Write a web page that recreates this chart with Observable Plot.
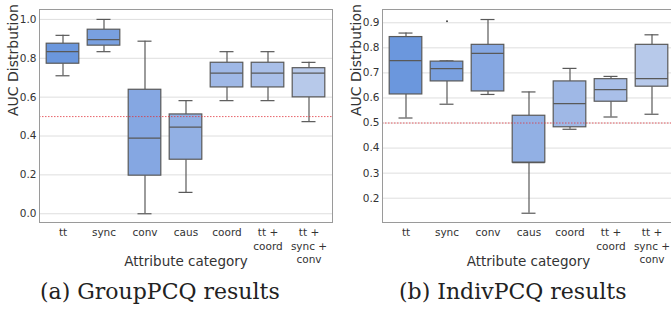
<!DOCTYPE html>
<html>
<head>
<meta charset="utf-8">
<script src="https://cdn.jsdelivr.net/npm/d3@7"></script>
<script src="https://cdn.jsdelivr.net/npm/@observablehq/plot@0.6"></script>
<style>
  html, body { margin: 0; padding: 0; background: #fff; }
  #wrap { position: relative; width: 671px; height: 316px; overflow: hidden; background: #fff; }
  #wrap svg { position: absolute; top: 0; }
  .cap { position: absolute; font-family: "DejaVu Serif", serif; font-size: 22px; line-height: 22px; color: #222; white-space: nowrap; }
</style>
</head>
<body>
<div id="wrap"></div>
<script>
const categories = ["tt", "sync", "conv", "caus", "coord", "tt + coord", "tt + sync + conv"];
const tickLabels = ["tt", "sync", "conv", "caus", "coord", "tt +\ncoord", "tt +\nsync +\nconv"];
const colors = ["#6b97dd", "#79a0e0", "#85a7e2", "#92b0e4", "#9fb8e6", "#a9bfe8", "#b7c9ea"];

// (a) GroupPCQ
const groupLow  = [0.710, 0.834, 0.000, 0.110, 0.582, 0.582, 0.474];
const groupQ1   = [0.772, 0.865, 0.196, 0.278, 0.650, 0.650, 0.599];
const groupMed  = [0.834, 0.896, 0.389, 0.446, 0.724, 0.724, 0.724];
const groupQ3   = [0.875, 0.947, 0.638, 0.511, 0.777, 0.777, 0.749];
const groupHigh = [0.918, 1.000, 0.888, 0.582, 0.834, 0.834, 0.779];
const groupTicks = [0, 0.2, 0.4, 0.6, 0.8, 1.0];

// (b) IndivPCQ
const indivLow  = [0.520, 0.575, 0.614, 0.140, 0.475, 0.524, 0.535];
const indivQ1   = [0.614, 0.666, 0.626, 0.342, 0.483, 0.585, 0.645];
const indivMed  = [0.749, 0.717, 0.778, 0.342, 0.577, 0.633, 0.677];
const indivQ3   = [0.843, 0.745, 0.812, 0.529, 0.666, 0.675, 0.812];
const indivHigh = [0.859, 0.748, 0.913, 0.624, 0.718, 0.686, 0.852];
const indivTicks = [0.2, 0.3, 0.4, 0.5, 0.6, 0.7, 0.8, 0.9];
const indivOutlierCats = ["sync"];
const indivOutlierVals = [0.906];

const chance = 0.5;
const yLabel = "AUC Distrbution";
const xLabel = "Attribute category";

function rows(low, q1, med, q3, high) {
  return categories.map((c, i) => ({cat: c, low: low[i], q1: q1[i], med: med[i], q3: q3[i], high: high[i], color: colors[i]}));
}

const edge = "#595959";
const txt = "#333";

function makePlot({data, ticks, domain, width, marginLeft, outliers}) {
  const boxInset = 4.2;
  const capInset = 13.5;
  return Plot.plot({
    width, height: 275,
    marginLeft, marginRight: 3, marginTop: 9, marginBottom: 53,
    style: {fontFamily: "'DejaVu Sans', sans-serif", background: "transparent", overflow: "visible"},
    x: {domain: categories, padding: 0, axis: null},
    y: {domain, axis: null},
    marks: [
      Plot.ruleY(ticks, {stroke: "#dedede", strokeWidth: 1}),
      Plot.text(ticks, {y: d => d, text: d => d3.format(".1f")(d), frameAnchor: "left", textAnchor: "end", dx: -3, fontSize: 10.5, fill: txt}),
      Plot.ruleX(data, {x: "cat", y1: "low", y2: "q1", stroke: edge, strokeWidth: 1.2}),
      Plot.ruleX(data, {x: "cat", y1: "q3", y2: "high", stroke: edge, strokeWidth: 1.2}),
      Plot.tickY(data, {x: "cat", y: "low", stroke: edge, strokeWidth: 1.2, insetLeft: capInset, insetRight: capInset}),
      Plot.tickY(data, {x: "cat", y: "high", stroke: edge, strokeWidth: 1.2, insetLeft: capInset, insetRight: capInset}),
      Plot.barY(data, {x: "cat", y1: "q1", y2: "q3", fill: "color", stroke: edge, strokeWidth: 1.2, insetLeft: boxInset, insetRight: boxInset}),
      Plot.tickY(data, {x: "cat", y: "med", stroke: edge, strokeWidth: 1.2, insetLeft: boxInset, insetRight: boxInset}),
      outliers ? Plot.dot(outliers, {x: "cat", y: "value", r: 1, fill: "#444", stroke: null}) : null,
      Plot.ruleY([chance], {stroke: "#e0303a", strokeWidth: 0.9, strokeDasharray: "1.5,1.5", strokeOpacity: 0.85}),
      Plot.frame({stroke: "#9a9a9a", strokeWidth: 1}),
      Plot.text([yLabel], {frameAnchor: "left", dx: -26, rotate: -90, fontSize: 14, fill: txt}),
      Plot.text(categories, {x: d => d, text: (d, i) => tickLabels[i], frameAnchor: "bottom", lineAnchor: "top", dy: 4, fontSize: 10.5, lineHeight: 1.3, fill: txt}),
      Plot.text([xLabel], {frameAnchor: "bottom", dy: 43, fontSize: 13.5, fill: txt})
    ]
  });
}

const wrap = document.getElementById("wrap");

const left = makePlot({
  data: rows(groupLow, groupQ1, groupMed, groupQ3, groupHigh),
  ticks: groupTicks, domain: [-0.045, 1.051], width: 335, marginLeft: 39
});
left.style.left = "0px";
wrap.appendChild(left);

const right = makePlot({
  data: rows(indivLow, indivQ1, indivMed, indivQ3, indivHigh),
  ticks: indivTicks, domain: [0.103, 0.953], width: 342, marginLeft: 47,
  outliers: indivOutlierCats.map((c, i) => ({cat: c, value: indivOutlierVals[i]}))
});
right.style.left = "335px";
wrap.appendChild(right);

const capA = document.createElement("div");
capA.className = "cap";
capA.textContent = "(a) GroupPCQ results";
capA.style.left = "40px";
capA.style.top = "281px";
wrap.appendChild(capA);

const capB = document.createElement("div");
capB.className = "cap";
capB.textContent = "(b) IndivPCQ results";
capB.style.left = "399px";
capB.style.top = "281px";
wrap.appendChild(capB);
</script>
</body>
</html>
